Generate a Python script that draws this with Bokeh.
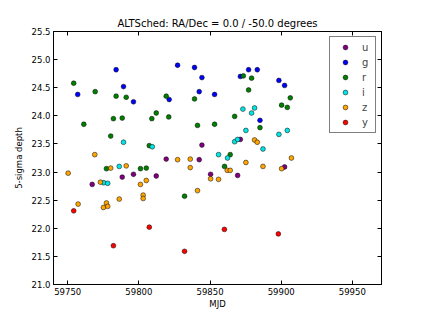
from bokeh.plotting import figure
from bokeh.models import (Range1d, FixedTicker, LinearAxis, Legend, LegendItem,
                          NumeralTickFormatter)
from bokeh.embed import file_html
from bokeh.resources import INLINE

# ---- data (MJD, 5-sigma depth) per filter ----
u_mjd = [59767.2, 59788.3, 59796.2, 59812.2, 59819.2, 59842.4, 59844.3, 59850.4, 59869.4, 59871.3, 59902.4]
u_depth = [22.78, 22.91, 22.96, 22.93, 23.23, 23.22, 23.48, 22.96, 22.94, 23.58, 23.09]

g_mjd = [59757.0, 59784.0, 59789.2, 59796.2, 59821.3, 59827.2, 59839.1, 59842.4, 59844.3, 59853.2,
         59871.3, 59877.1, 59883.2, 59885.1, 59898.4, 59902.4]
g_depth = [24.38, 24.82, 24.52, 24.25, 24.29, 24.90, 24.86, 24.43, 24.68, 24.38,
           24.70, 24.82, 24.82, 23.92, 24.63, 24.54]

r_mjd = [59754.2, 59761.3, 59769.3, 59777.2, 59780.2, 59782.1, 59784.0, 59788.3, 59791.1, 59801.1,
         59805.2, 59807.3, 59809.1, 59812.2, 59819.2, 59821.0, 59832.1, 59839.1, 59841.2, 59853.2,
         59860.2, 59864.2, 59867.3, 59873.4, 59877.1, 59879.2, 59885.1, 59900.3, 59904.3, 59906.4]
r_depth = [24.58, 23.85, 24.43, 23.06, 23.64, 23.95, 24.35, 23.96, 24.33, 23.06,
           23.07, 23.47, 23.95, 24.05, 24.35, 23.98, 22.57, 24.30, 23.83, 23.85,
           23.10, 23.31, 23.99, 24.71, 24.46, 24.67, 23.79, 24.19, 24.15, 24.32]

i_mjd = [59775.3, 59778.1, 59786.2, 59789.2, 59809.4, 59856.0, 59862.3, 59867.3, 59869.4, 59873.1,
         59875.2, 59879.2, 59881.3, 59887.2, 59898.4, 59904.3]
i_depth = [22.81, 22.80, 23.10, 23.53, 23.45, 23.31, 23.25, 23.54, 23.58, 24.12,
           23.74, 24.05, 24.14, 23.41, 23.67, 23.74]

z_mjd = [59750.3, 59757.3, 59769.0, 59773.0, 59775.1, 59777.2, 59778.1, 59780.2, 59786.2, 59791.1,
         59801.1, 59803.0, 59803.0, 59805.2, 59827.2, 59836.1, 59836.1, 59841.2, 59850.4, 59856.0,
         59862.1, 59864.2, 59875.2, 59881.3, 59883.2, 59887.2, 59900.3, 59907.2]
z_depth = [22.98, 22.43, 23.31, 22.82, 22.37, 22.45, 22.39, 23.07, 22.52, 23.11,
           22.78, 22.59, 22.53, 22.85, 23.22, 23.23, 23.08, 22.67, 22.88, 22.87,
           23.03, 23.03, 23.17, 23.57, 23.53, 23.10, 23.06, 23.25]

y_mjd = [59754.2, 59782.1, 59807.3, 59832.1, 59860.1, 59898.0]
y_depth = [22.31, 21.69, 22.02, 21.59, 21.98, 21.90]

bands = ["u", "g", "r", "i", "z", "y"]
band_colors = ["#800080", "#0000ff", "#008000", "#00e5e5", "#ffa500", "#ff0000"]
band_data = [(u_mjd, u_depth), (g_mjd, g_depth), (r_mjd, r_depth),
             (i_mjd, i_depth), (z_mjd, z_depth), (y_mjd, y_depth)]

x_ticks = [59750, 59800, 59850, 59900, 59950]
y_ticks = [21.0, 21.5, 22.0, 22.5, 23.0, 23.5, 24.0, 24.5, 25.0, 25.5]

FONT = "DejaVu Sans"

p = figure(frame_width=328, frame_height=253, output_backend="svg", toolbar_location=None,
           x_range=Range1d(59740, 59970.5), y_range=Range1d(21.0, 25.5),
           min_border_left=53, min_border_top=31, min_border_right=10, min_border_bottom=5,
           title="ALTSched: RA/Dec = 0.0 / -50.0 degrees")
p.title.align = "center"
p.title.text_font = FONT
p.title.text_font_size = "10px"
p.title.text_font_style = "normal"
p.title.text_color = "black"
p.title.standoff = 6

p.xgrid.visible = False
p.ygrid.visible = False
p.outline_line_color = "black"
p.outline_line_width = 1
p.outline_line_alpha = 1

def style_axis(ax, ticks, show_labels):
    ax.ticker = FixedTicker(ticks=ticks)
    ax.minor_tick_line_color = None
    ax.major_tick_in = 4
    ax.major_tick_out = 0
    ax.major_tick_line_color = "black"
    ax.axis_line_color = "black"
    ax.major_label_text_font = FONT
    ax.major_label_text_font_size = "8.5px"
    ax.major_label_text_color = "black"
    ax.axis_label_text_font = FONT
    ax.axis_label_text_font_size = "8.5px"
    ax.axis_label_text_font_style = "normal"
    ax.axis_label_text_color = "black"
    if not show_labels:
        ax.major_label_overrides = {t: "" for t in ticks}
        ax.major_label_standoff = 0

style_axis(p.xaxis[0], x_ticks, True)
style_axis(p.yaxis[0], y_ticks, True)
p.xaxis[0].axis_label = "MJD"
p.yaxis[0].axis_label = "5-sigma depth"
p.xaxis[0].major_label_standoff = 3
p.yaxis[0].major_label_standoff = 3
p.xaxis[0].axis_label_standoff = 1
p.yaxis[0].axis_label_standoff = 5
p.yaxis[0].formatter = NumeralTickFormatter(format="0.0")
p.xaxis[0].formatter = NumeralTickFormatter(format="0")

top_ax = LinearAxis()
style_axis(top_ax, x_ticks, False)
right_ax = LinearAxis()
style_axis(right_ax, y_ticks, False)
p.add_layout(top_ax, "above")
p.add_layout(right_ax, "right")

items = []
for name, col, (xs, ys) in zip(bands, band_colors, band_data):
    r = p.scatter(xs, ys, size=4.8, fill_color=col, line_color="black", line_width=0.5)
    items.append(LegendItem(label=name, renderers=[r]))

legend = Legend(items=items, location="top_right", margin=5, padding=4, spacing=3,
                glyph_height=12, glyph_width=22, label_height=12, label_width=9,
                label_standoff=6,
                label_text_font=FONT, label_text_font_size="10px",
                border_line_color="black", border_line_width=1, background_fill_alpha=1)
p.add_layout(legend)

open("out.html", "w").write(file_html(p, INLINE))
